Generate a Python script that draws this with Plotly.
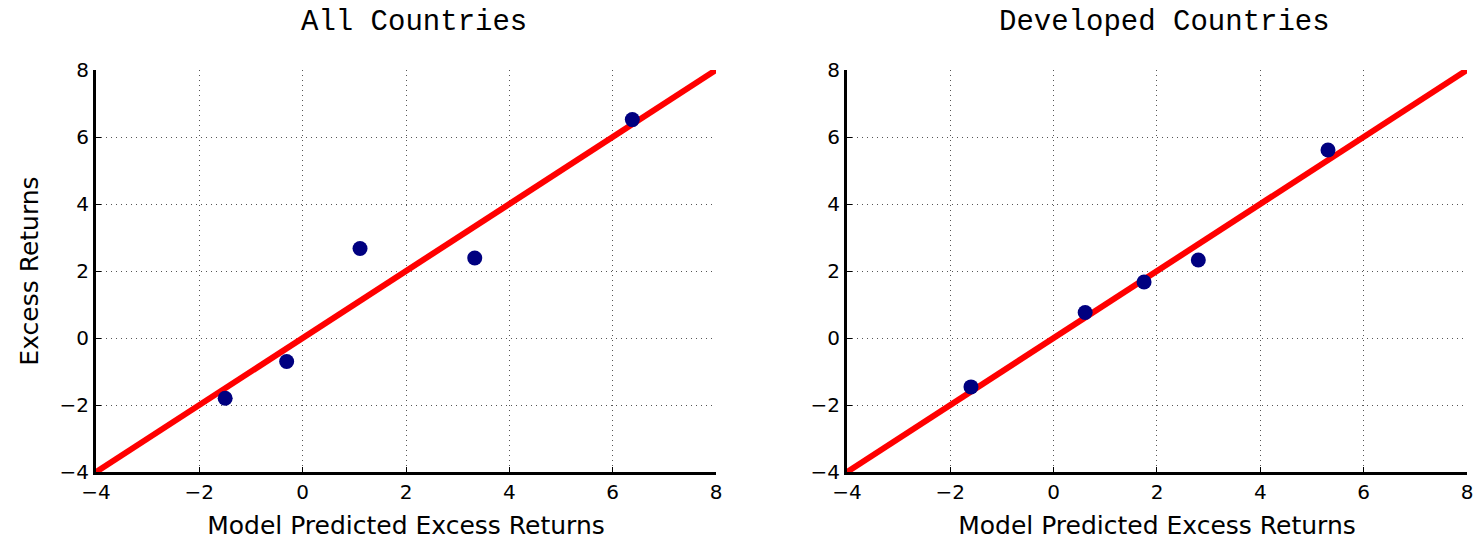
import plotly.graph_objects as go
from plotly.subplots import make_subplots

# Data
all_pred = [-1.50, -0.31, 1.11, 3.33, 6.38]
all_actual = [-1.80, -0.70, 2.67, 2.39, 6.52]

dev_pred = [-1.60, 0.61, 1.75, 2.80, 5.31]
dev_actual = [-1.46, 0.76, 1.67, 2.33, 5.61]

fit_x = [-4, 8]
fit_y = [-4, 8]

tick_vals = [-4, -2, 0, 2, 4, 6, 8]
tick_text = ["\u2212" + str(abs(v)) if v < 0 else str(v) for v in tick_vals]

titles = ["All Countries", "Developed Countries"]

SANS = "DejaVu Sans, Liberation Sans, Arial, sans-serif"

fig = make_subplots(rows=1, cols=2, horizontal_spacing=0.0955)

panels = [(all_pred, all_actual), (dev_pred, dev_actual)]
for i, (px_, py_) in enumerate(panels, start=1):
    fig.add_trace(go.Scatter(x=fit_x, y=fit_y, mode="lines",
                             line=dict(color="#ff0000", width=6),
                             showlegend=False, hoverinfo="skip"), row=1, col=i)
    fig.add_trace(go.Scatter(x=px_, y=py_, mode="markers",
                             marker=dict(color="#000080", size=15),
                             showlegend=False), row=1, col=i)

axis_common = dict(
    range=[-4, 8], tickvals=tick_vals, ticktext=tick_text,
    showgrid=True, gridcolor="#555555", griddash="1px,4px", gridwidth=1,
    zeroline=False, showline=True, linecolor="black", linewidth=3,
    ticks="inside", ticklen=5, tickcolor="black", tickwidth=1,
    mirror=False, automargin=False,
    tickfont=dict(family=SANS, size=20, color="black"),
)

for i in (1, 2):
    fig.update_xaxes(**axis_common, row=1, col=i,
                     title=dict(text="Model Predicted Excess Returns",
                                font=dict(family=SANS, size=25, color="black"),
                                standoff=14))
    fig.update_yaxes(**axis_common, row=1, col=i)

fig.update_yaxes(title=dict(text="Excess Returns",
                            font=dict(family=SANS, size=25, color="black"),
                            standoff=14), row=1, col=1)

# Panel titles
for i, t in enumerate(titles, start=1):
    xref = "x domain" if i == 1 else "x2 domain"
    fig.add_annotation(text=t, xref=xref, yref="paper", x=0.5, y=1.0, yshift=48,
                       xshift=8, showarrow=False, yanchor="middle", xanchor="center",
                       font=dict(family="Liberation Mono, Courier New, monospace", size=29, color="black"))

fig.update_layout(
    width=1477, height=544,
    margin=dict(l=96, r=10, t=70, b=72, autoexpand=False),
    plot_bgcolor="white", paper_bgcolor="white",
)

fig.write_html("out.html",
               config={"displayModeBar": False},
               post_script="document.body.style.margin='0';document.body.style.overflow='hidden';")
